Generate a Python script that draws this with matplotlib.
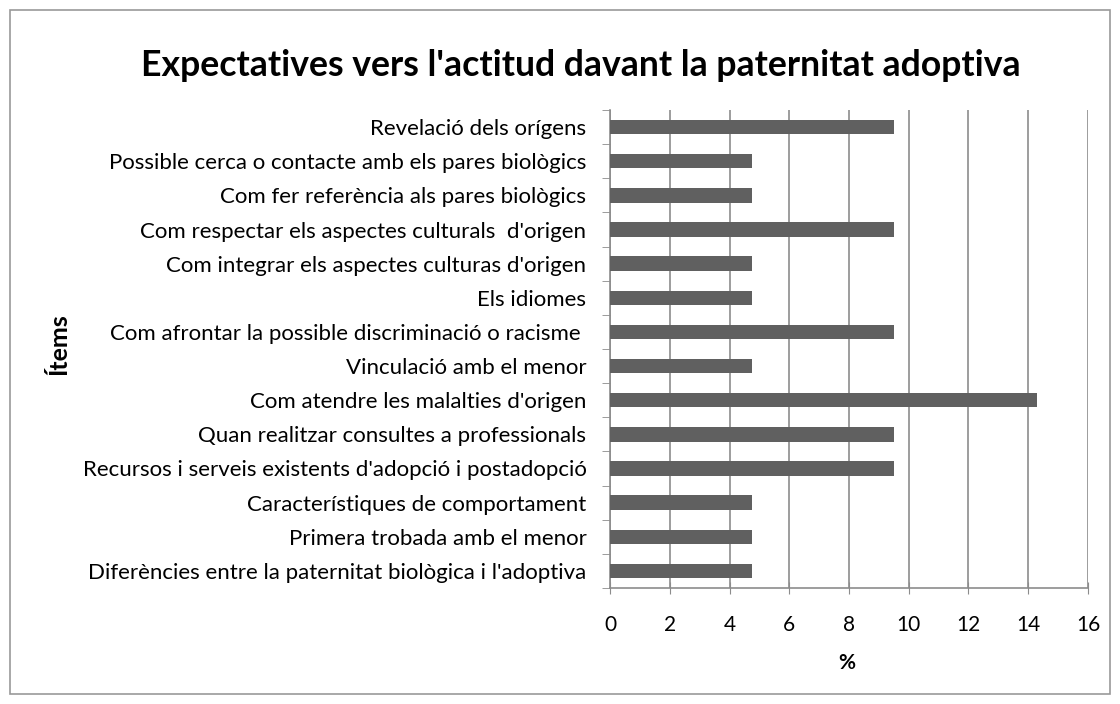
import matplotlib.pyplot as plt
from matplotlib.patches import Rectangle

plt.rcParams['font.family'] = ['Lato', 'DejaVu Sans']

# categories from bottom to top
items = [
    "Diferències entre la paternitat biològica i l'adoptiva",
    "Primera trobada amb el menor",
    "Característiques de comportament",
    "Recursos i serveis existents d'adopció i postadopció",
    "Quan realitzar consultes a professionals",
    "Com atendre les malalties d'origen",
    "Vinculació amb el menor",
    "Com afrontar la possible discriminació o racisme ",
    "Els idiomes",
    "Com integrar els aspectes culturas d'origen",
    "Com respectar els aspectes culturals  d'origen",
    "Com fer referència als pares biològics",
    "Possible cerca o contacte amb els pares biològics",
    "Revelació dels orígens",
]
percent = [4.76, 4.76, 4.76, 9.52, 9.52, 14.29, 4.76, 9.52, 4.76, 4.76, 9.52, 4.76, 4.76, 9.52]
xticks = [0, 2, 4, 6, 8, 10, 12, 14, 16]

fig = plt.figure(figsize=(11.2, 7.04), dpi=100)
ax = fig.add_axes([610 / 1120, 1 - 588 / 704, 478 / 1120, 478 / 704])

ypos = range(len(items))
ax.barh(ypos, percent, height=0.42, color='#606060', zorder=3)
ax.set_xlim(0, 16)
ax.set_ylim(-0.5, len(items) - 0.5)
ax.set_xticks(xticks)
ax.set_yticks(ypos)
ax.set_yticklabels(items, fontsize=16)
ax.tick_params(axis='x', labelsize=15, length=9, color='#8c8c8c', direction='inout', pad=15)
ax.tick_params(axis='y', length=0, pad=17)
# minor ticks on y at category boundaries
ax.set_yticks([i - 0.5 for i in range(len(items) + 1)], minor=True)
ax.tick_params(axis='y', which='minor', length=6, color='#8c8c8c')
ax.grid(axis='x', color='#8c8c8c', linewidth=1.2, zorder=0)
for s in ['top', 'right']:
    ax.spines[s].set_visible(False)
for s in ['left', 'bottom']:
    ax.spines[s].set_color('#8c8c8c')
    ax.spines[s].set_linewidth(1.2)

fig.text(847 / 1120, 1 - 663 / 704, '%', fontsize=15, fontweight='bold',
         ha='center', va='center')
fig.text(59 / 1120, 1 - 344 / 704, 'Ítems', rotation=90, fontsize=18, fontweight='bold',
         ha='center', va='center')
fig.text(581 / 1120, 1 - 66 / 704, "Expectatives vers l'actitud davant la paternitat adoptiva",
         fontsize=25.7, fontweight='bold', ha='center', va='center')

fig.patches.append(Rectangle((10 / 1120, 10 / 704), 1100 / 1120, 684 / 704,
                             transform=fig.transFigure, fill=False,
                             edgecolor='#999999', linewidth=1.2))

fig.savefig('out.png', dpi=100)
